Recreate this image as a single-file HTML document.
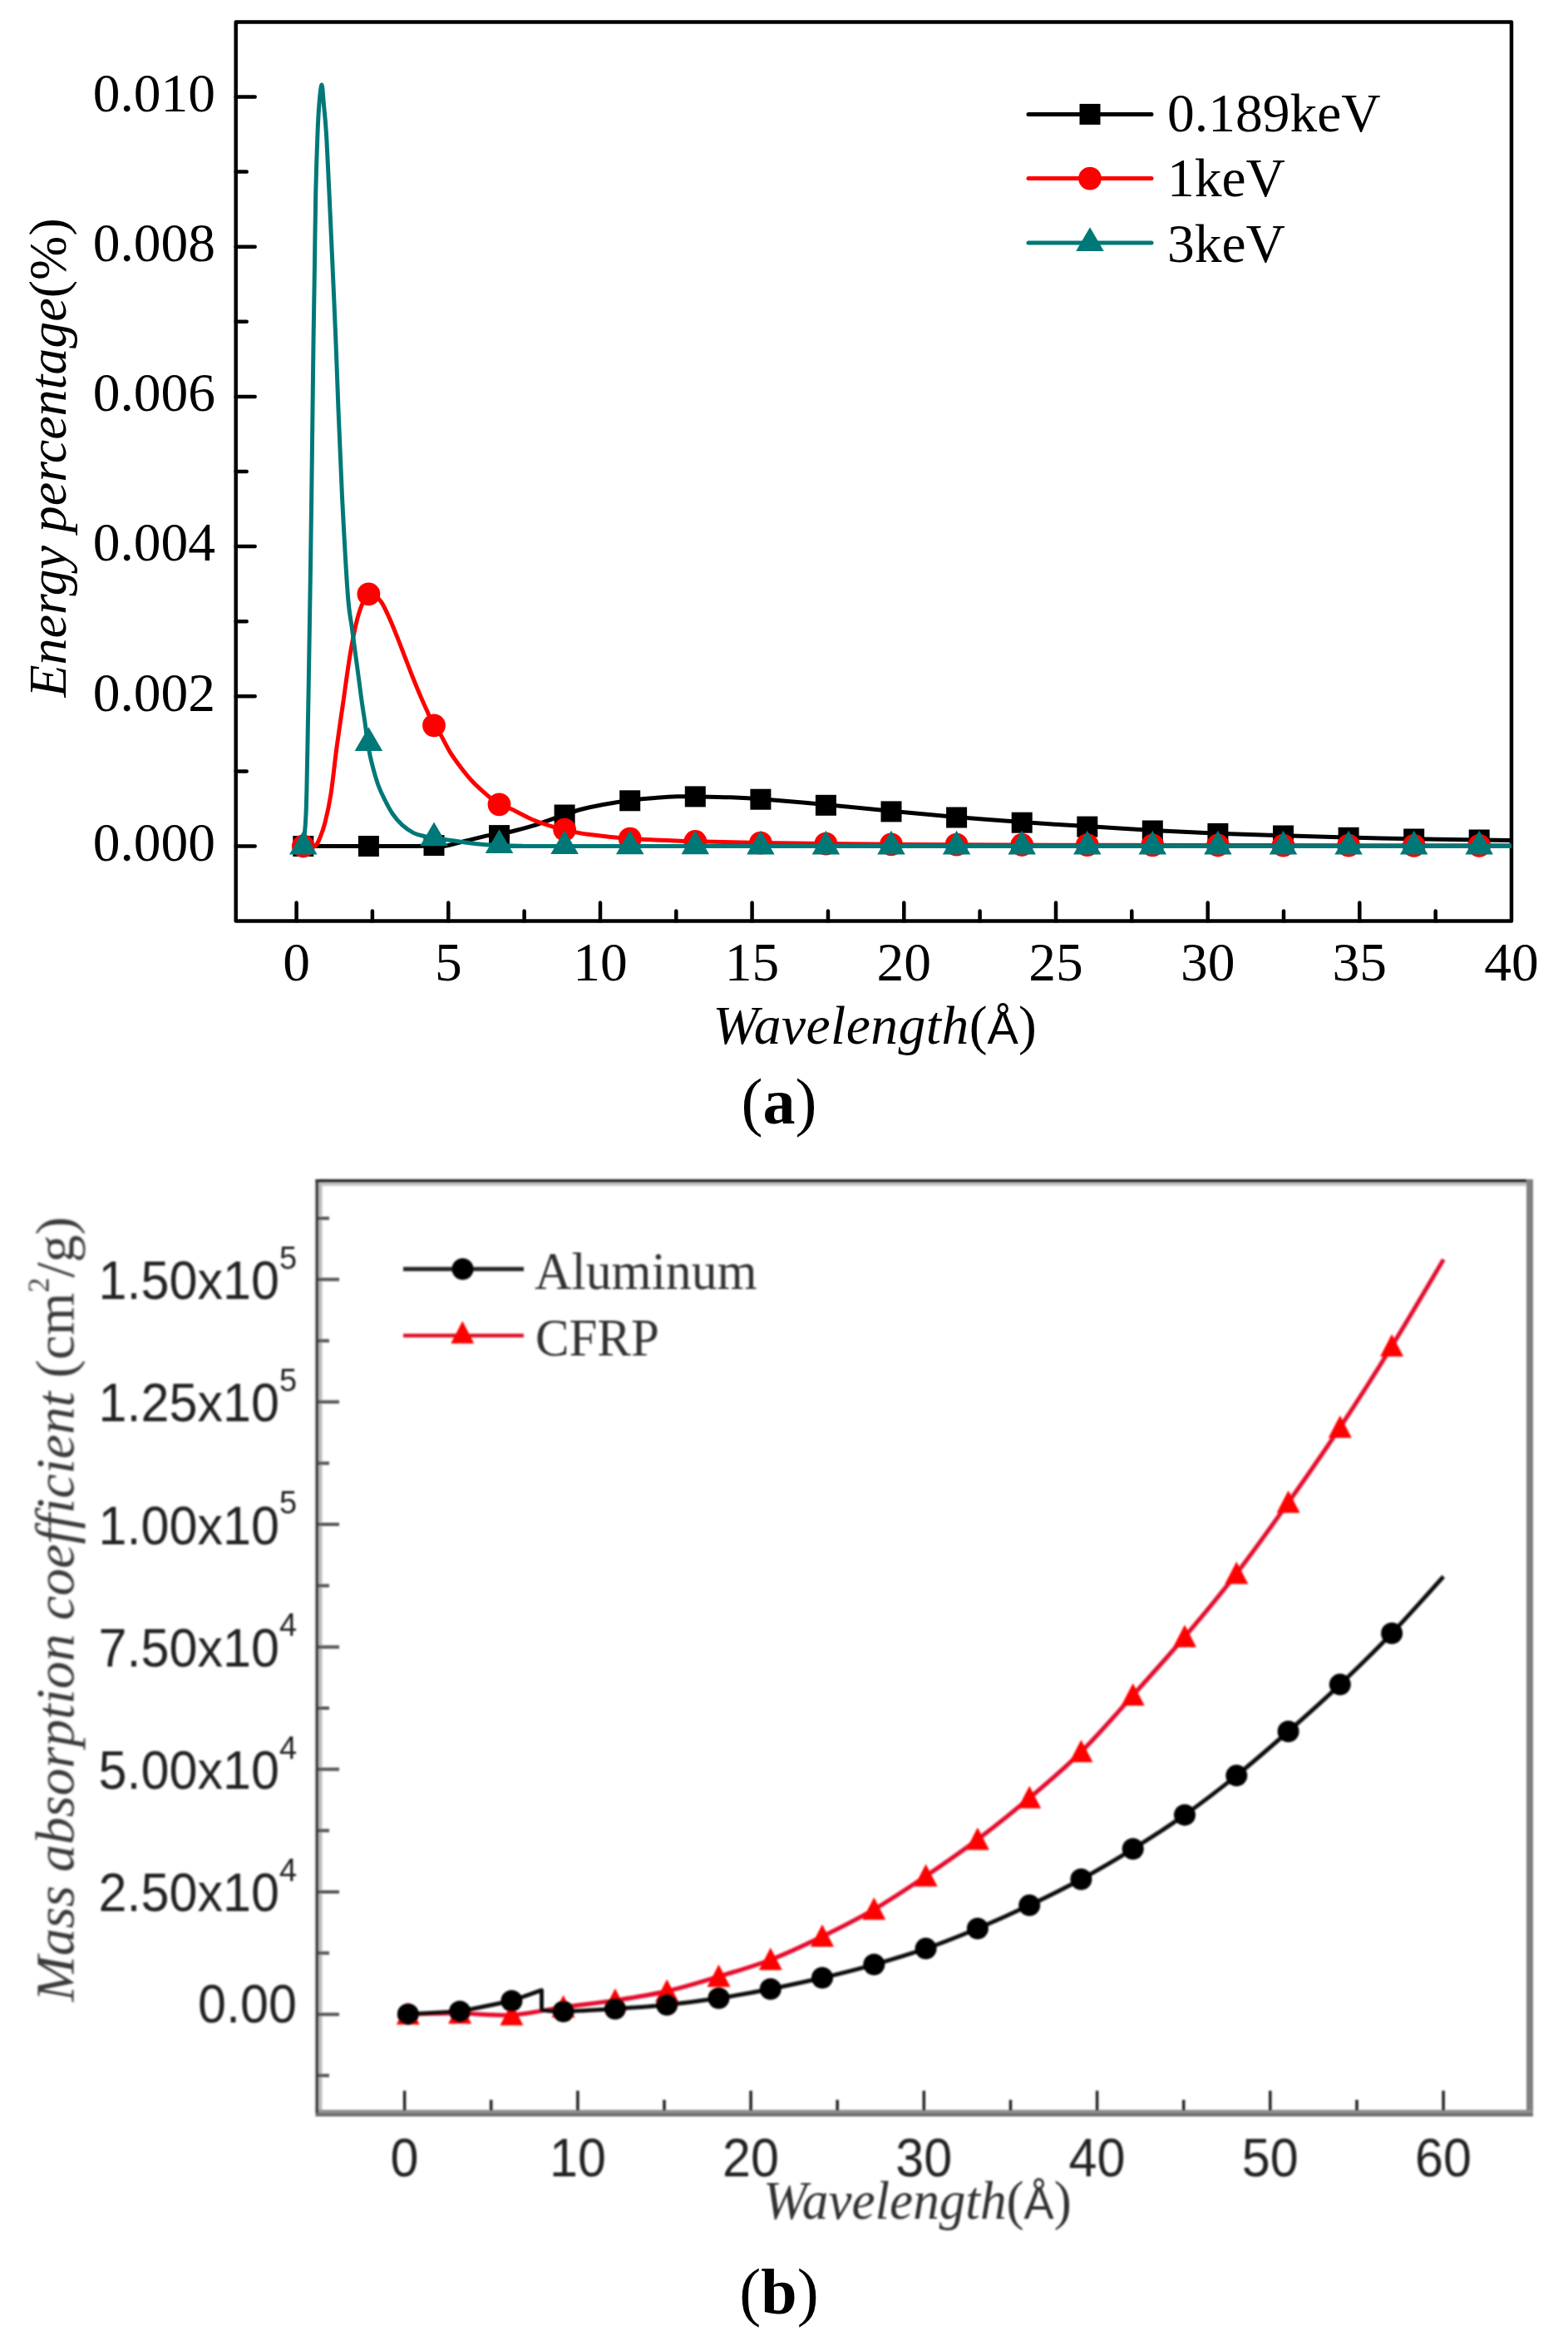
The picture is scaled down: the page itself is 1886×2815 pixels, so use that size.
<!DOCTYPE html>
<html><head><meta charset="utf-8"><title>Figure</title>
<style>
html,body{margin:0;padding:0;background:#fff;}
body{width:1886px;height:2815px;overflow:hidden;}
svg{display:block;}
.sa{font-family:"Liberation Serif",serif;font-size:65.5px;fill:#000;}
.yla{font-family:"Liberation Serif",serif;font-size:64px;fill:#000;}
.cap{font-family:"Liberation Serif",serif;font-size:78px;fill:#000;}
.sb{font-family:"Liberation Sans",sans-serif;font-size:64px;fill:#222;}
.sbs{font-family:"Liberation Sans",sans-serif;font-size:38px;fill:#222;}
.sl{font-family:"Liberation Serif",serif;font-size:64px;fill:#333;}
.yl{font-family:"Liberation Serif",serif;font-size:66px;fill:#3a3a3a;}
.xlb{font-family:"Liberation Serif",serif;font-size:65.5px;fill:#333;}
</style></head>
<body>
<svg width="1886" height="2815" viewBox="0 0 1886 2815">
<rect width="1886" height="2815" fill="#fff"/>
<g id="chartA">
<rect x="283.7" y="26.5" width="1534.3" height="1081.0" fill="none" stroke="#000" stroke-width="4.5" stroke-linejoin="round"/>
<path d="M283.7,1017.5h23 M283.7,927.4h13 M283.7,837.3h23 M283.7,747.2h13 M283.7,657.1h23 M283.7,567.0h13 M283.7,476.9h23 M283.7,386.8h13 M283.7,296.7h23 M283.7,206.6h13 M283.7,116.5h23 M356.6,1107.5v-22 M447.9,1107.5v-12 M539.3,1107.5v-22 M630.6,1107.5v-12 M722.0,1107.5v-22 M813.3,1107.5v-12 M904.6,1107.5v-22 M996.0,1107.5v-12 M1087.3,1107.5v-22 M1178.6,1107.5v-12 M1270.0,1107.5v-22 M1361.3,1107.5v-12 M1452.7,1107.5v-22 M1544.0,1107.5v-12 M1635.3,1107.5v-22 M1726.7,1107.5v-12" stroke="#000" stroke-width="4.5" stroke-linecap="round" fill="none"/>
<text x="259" y="1034.8" text-anchor="end" class="sa">0.000</text>
<text x="259" y="854.6" text-anchor="end" class="sa">0.002</text>
<text x="259" y="674.4" text-anchor="end" class="sa">0.004</text>
<text x="259" y="494.2" text-anchor="end" class="sa">0.006</text>
<text x="259" y="314.0" text-anchor="end" class="sa">0.008</text>
<text x="259" y="133.8" text-anchor="end" class="sa">0.010</text>
<text x="356.6" y="1179.3" text-anchor="middle" class="sa">0</text>
<text x="539.3" y="1179.3" text-anchor="middle" class="sa">5</text>
<text x="722.0" y="1179.3" text-anchor="middle" class="sa">10</text>
<text x="904.6" y="1179.3" text-anchor="middle" class="sa">15</text>
<text x="1087.3" y="1179.3" text-anchor="middle" class="sa">20</text>
<text x="1270.0" y="1179.3" text-anchor="middle" class="sa">25</text>
<text x="1452.7" y="1179.3" text-anchor="middle" class="sa">30</text>
<text x="1635.3" y="1179.3" text-anchor="middle" class="sa">35</text>
<text x="1818.0" y="1179.3" text-anchor="middle" class="sa">40</text>
<path d="M364.5,1017.5 C377.5,1017.5 420.0,1017.5 442.6,1017.5 C465.2,1017.5 486.9,1017.4 500.0,1017.4 C513.1,1017.4 515.8,1017.2 521.4,1017.2 C527.0,1017.2 527.2,1018.6 533.8,1017.6 C540.4,1016.6 552.3,1013.2 561.2,1011.0 C570.1,1008.8 580.9,1005.9 587.4,1004.6 C593.9,1003.3 596.0,1003.7 600.2,1003.0 C604.5,1002.3 606.2,1002.1 612.9,1000.5 C619.6,998.9 631.5,995.9 640.3,993.2 C649.1,990.5 659.4,986.4 665.8,984.3 C672.2,982.2 673.2,982.2 678.6,980.4 C684.0,978.6 690.1,975.6 697.9,973.5 C705.7,971.4 715.6,969.4 725.5,967.5 C735.4,965.6 746.4,963.8 757.1,962.4 C767.9,961.0 780.4,960.1 790.0,959.3 C799.6,958.5 807.1,958.0 814.8,957.8 C822.5,957.5 825.4,957.6 836.0,957.8 C846.6,958.0 865.5,958.3 878.6,958.8 C891.7,959.3 895.7,959.3 914.8,960.8 C933.9,962.3 967.0,965.2 993.1,967.6 C1019.2,970.0 1045.5,972.8 1071.7,975.3 C1097.9,977.8 1123.8,980.2 1150.1,982.4 C1176.4,984.6 1203.0,986.7 1229.3,988.6 C1255.6,990.5 1281.6,992.0 1307.8,993.6 C1334.0,995.2 1360.4,997.0 1386.6,998.4 C1412.8,999.8 1439.0,1001.1 1465.2,1002.2 C1491.4,1003.3 1517.6,1004.0 1543.8,1004.8 C1570.0,1005.6 1596.2,1006.3 1622.4,1007.0 C1648.6,1007.7 1674.9,1008.3 1701.1,1008.8 C1727.3,1009.3 1760.2,1009.7 1779.7,1010.0 C1799.2,1010.3 1811.6,1010.5 1818.0,1010.6" stroke="#000" stroke-width="5" fill="none" stroke-linejoin="round"/>
<g fill="#000"><rect x="352.3" y="1005.0" width="25" height="25"/><rect x="430.9" y="1005.0" width="25" height="25"/><rect x="509.5" y="1004.1" width="25" height="25"/><rect x="588.0" y="992.1" width="25" height="25"/><rect x="666.6" y="967.5" width="25" height="25"/><rect x="745.2" y="950.3" width="25" height="25"/><rect x="823.8" y="945.4" width="25" height="25"/><rect x="902.4" y="948.7" width="25" height="25"/><rect x="980.9" y="955.8" width="25" height="25"/><rect x="1059.5" y="963.4" width="25" height="25"/><rect x="1138.1" y="970.5" width="25" height="25"/><rect x="1216.7" y="976.7" width="25" height="25"/><rect x="1295.3" y="981.6" width="25" height="25"/><rect x="1373.8" y="986.5" width="25" height="25"/><rect x="1452.4" y="989.9" width="25" height="25"/><rect x="1531.0" y="992.5" width="25" height="25"/><rect x="1609.6" y="994.8" width="25" height="25"/><rect x="1688.2" y="996.5" width="25" height="25"/><rect x="1766.7" y="997.5" width="25" height="25"/></g>
<path d="M364.5,1017.5 C365.8,1017.8 369.4,1019.7 372.0,1019.5 C374.6,1019.3 377.7,1018.6 379.9,1016.5 C382.1,1014.4 383.1,1011.6 385.0,1007.0 C386.9,1002.4 388.9,997.6 391.1,988.7 C393.3,979.8 395.9,968.8 398.2,953.5 C400.5,938.2 402.8,914.8 405.2,897.2 C407.6,879.6 409.9,864.3 412.3,847.9 C414.7,831.5 417.0,813.4 419.3,798.6 C421.6,783.8 424.0,770.2 426.3,759.2 C428.6,748.2 430.7,739.9 433.4,732.4 C436.1,724.9 439.6,717.1 442.4,714.4 C445.2,711.7 447.3,714.4 450.0,716.0 C452.7,717.6 455.6,719.5 458.7,724.0 C461.8,728.5 465.1,736.1 468.3,743.1 C471.5,750.1 474.6,758.1 477.8,766.1 C481.0,774.1 484.2,782.7 487.4,791.0 C490.6,799.3 493.8,807.8 497.0,815.8 C500.2,823.8 503.6,832.1 506.5,838.8 C509.4,845.5 511.7,850.4 514.2,856.0 C516.7,861.6 518.8,867.8 521.3,872.3 C523.8,876.8 526.2,877.5 529.5,882.8 C532.8,888.1 536.9,897.2 541.0,903.9 C545.1,910.6 549.9,917.1 554.4,923.0 C558.9,928.9 563.0,934.1 567.8,939.2 C572.6,944.3 577.7,948.9 583.1,953.6 C588.5,958.3 594.7,964.3 600.0,967.5 C605.3,970.7 608.1,969.8 614.8,972.8 C621.5,975.8 631.8,981.9 640.3,985.5 C648.8,989.1 659.3,992.4 665.8,994.4 C672.3,996.4 672.2,996.1 679.1,997.6 C686.0,999.1 694.3,1001.5 707.4,1003.3 C720.5,1005.1 736.1,1007.0 757.6,1008.4 C779.1,1009.8 810.1,1010.9 836.3,1011.8 C862.5,1012.6 888.7,1013.0 914.8,1013.5 C940.9,1014.0 967.0,1014.3 993.1,1014.6 C1019.2,1014.9 1045.5,1015.1 1071.7,1015.3 C1097.9,1015.5 1112.0,1015.6 1150.0,1015.8 C1188.0,1016.0 1241.7,1016.2 1300.0,1016.3 C1358.3,1016.4 1413.7,1016.5 1500.0,1016.6 C1586.3,1016.7 1765.0,1016.8 1818.0,1016.8" stroke="#ff0000" stroke-width="5" fill="none" stroke-linejoin="round"/>
<g fill="#ff0000"><circle cx="364.8" cy="1017.5" r="13.9"/><circle cx="443.4" cy="714.4" r="13.9"/><circle cx="522.0" cy="872.3" r="13.9"/><circle cx="600.5" cy="967.3" r="13.9"/><circle cx="679.1" cy="997.6" r="13.9"/><circle cx="757.7" cy="1008.6" r="13.9"/><circle cx="836.3" cy="1012.0" r="13.9"/><circle cx="914.9" cy="1013.6" r="13.9"/><circle cx="993.4" cy="1014.6" r="13.9"/><circle cx="1072.0" cy="1015.3" r="13.9"/><circle cx="1150.6" cy="1015.7" r="13.9"/><circle cx="1229.2" cy="1016.0" r="13.9"/><circle cx="1307.8" cy="1016.2" r="13.9"/><circle cx="1386.3" cy="1016.4" r="13.9"/><circle cx="1464.9" cy="1016.5" r="13.9"/><circle cx="1543.5" cy="1016.6" r="13.9"/><circle cx="1622.1" cy="1016.7" r="13.9"/><circle cx="1700.7" cy="1016.8" r="13.9"/><circle cx="1779.2" cy="1016.8" r="13.9"/></g>
<path d="M364.5,1017.5 C364.9,1014.6 366.1,1005.8 366.6,1000.0 C367.2,994.2 367.4,991.4 367.8,983.0 C368.2,974.6 368.3,974.8 368.9,949.7 C369.4,924.6 370.4,871.4 371.1,832.3 C371.8,793.1 372.4,753.9 373.0,714.8 C373.6,675.6 374.2,634.4 374.7,597.4 C375.2,560.4 375.6,524.6 376.0,492.6 C376.4,460.6 376.7,434.3 377.1,405.1 C377.5,375.9 378.1,346.8 378.5,317.6 C378.9,288.4 379.2,256.3 379.8,230.0 C380.4,203.7 381.3,177.7 382.0,160.0 C382.7,142.3 383.2,133.7 384.0,124.0 C384.8,114.3 386.1,101.8 387.0,102.0 C387.9,102.2 388.5,115.3 389.4,125.0 C390.3,134.7 391.3,142.5 392.4,160.0 C393.5,177.5 394.6,203.7 395.9,230.0 C397.1,256.3 398.6,288.4 399.9,317.6 C401.2,346.8 402.5,375.9 403.7,405.1 C404.9,434.3 405.7,460.6 407.0,492.6 C408.3,524.6 409.6,560.4 411.5,597.4 C413.4,634.4 416.3,688.3 418.3,714.8 C420.3,741.3 421.7,742.3 423.5,756.3 C425.3,770.3 427.3,784.5 429.2,798.6 C431.1,812.7 433.2,829.1 434.8,840.8 C436.4,852.5 437.8,860.7 439.0,869.0 C440.2,877.3 440.8,883.7 441.8,890.5 C442.9,897.3 444.1,903.9 445.3,909.6 C446.5,915.3 447.5,919.2 449.1,924.9 C450.7,930.6 452.7,938.0 454.9,944.0 C457.1,950.0 459.6,955.5 462.5,961.2 C465.4,967.0 468.6,973.4 472.1,978.5 C475.6,983.6 479.5,988.1 483.6,991.9 C487.8,995.7 492.6,999.1 497.0,1001.4 C501.4,1003.7 505.9,1004.5 510.0,1005.5 C514.1,1006.5 517.4,1006.8 521.5,1007.5 C525.6,1008.2 527.4,1008.5 534.4,1009.5 C541.4,1010.5 554.6,1012.5 563.8,1013.6 C572.9,1014.7 578.7,1015.5 589.3,1016.1 C599.9,1016.7 609.1,1017.0 627.6,1017.2 C646.1,1017.4 501.6,1017.5 700.0,1017.5 C898.4,1017.5 1631.7,1017.5 1818.0,1017.5" stroke="#007878" stroke-width="5" fill="none" stroke-linejoin="round"/>
<g fill="#007878"><polygon points="364.8,998.8 381.6,1027.5 348.0,1027.5"/><polygon points="443.4,874.3 460.2,903.0 426.6,903.0"/><polygon points="522.0,988.6 538.8,1017.3 505.2,1017.3"/><polygon points="600.5,997.3 617.3,1026.0 583.7,1026.0"/><polygon points="679.1,998.3 695.9,1027.0 662.3,1027.0"/><polygon points="757.7,998.5 774.5,1027.2 740.9,1027.2"/><polygon points="836.3,998.6 853.1,1027.3 819.5,1027.3"/><polygon points="914.9,998.7 931.7,1027.4 898.1,1027.4"/><polygon points="993.4,998.8 1010.2,1027.5 976.6,1027.5"/><polygon points="1072.0,998.8 1088.8,1027.5 1055.2,1027.5"/><polygon points="1150.6,998.8 1167.4,1027.5 1133.8,1027.5"/><polygon points="1229.2,998.8 1246.0,1027.5 1212.4,1027.5"/><polygon points="1307.8,998.8 1324.6,1027.5 1291.0,1027.5"/><polygon points="1386.3,998.8 1403.1,1027.5 1369.5,1027.5"/><polygon points="1464.9,998.8 1481.7,1027.5 1448.1,1027.5"/><polygon points="1543.5,998.8 1560.3,1027.5 1526.7,1027.5"/><polygon points="1622.1,998.8 1638.9,1027.5 1605.3,1027.5"/><polygon points="1700.7,998.8 1717.5,1027.5 1683.9,1027.5"/><polygon points="1779.2,998.8 1796.0,1027.5 1762.4,1027.5"/></g>
<path d="M1237,137.4H1385" stroke="#000" stroke-width="5" stroke-linecap="round"/>
<g fill="#000"><rect x="1298.5" y="124.9" width="25" height="25"/></g>
<path d="M1237,214.6H1385" stroke="#ff0000" stroke-width="5" stroke-linecap="round"/>
<g fill="#ff0000"><circle cx="1311.0" cy="214.6" r="13.9"/></g>
<path d="M1237,292.0H1385" stroke="#007878" stroke-width="5" stroke-linecap="round"/>
<g fill="#007878"><polygon points="1311.0,273.3 1327.8,302.0 1294.2,302.0"/></g>
<text x="1404" y="158" class="sa">0.189keV</text>
<text x="1404" y="236" class="sa">1keV</text>
<text x="1404" y="315" class="sa">3keV</text>
<text transform="translate(78.6,838.6) rotate(-90)" class="yla"><tspan font-style="italic">Energy percentage</tspan>(%)</text>
<text x="857.6" y="1255.3" class="sa"><tspan font-style="italic" letter-spacing="0.5">Wavelength</tspan>(<tspan font-family="Liberation Sans" font-size="56px">Å</tspan>)</text>
<text x="937" y="1351" text-anchor="middle" class="cap">(<tspan font-weight="bold">a</tspan>)</text>
</g>
<defs><filter id="bl" x="-0.02" y="-0.02" width="1.04" height="1.04"><feGaussianBlur stdDeviation="0.9"/></filter></defs>
<g id="chartB" filter="url(#bl)">
<rect x="379.5" y="1418" width="1461" height="4" fill="#2b2b2b"/>
<rect x="383.5" y="1422" width="1453" height="4" fill="#c4c4c4"/>
<rect x="379.5" y="1418" width="4" height="1123" fill="#3a3a3a"/>
<rect x="383.5" y="1422" width="4" height="1115" fill="#bdbdbd"/>
<rect x="1836" y="1418" width="8" height="1127" fill="#808080"/>
<rect x="383.5" y="2537" width="1460" height="4" fill="#909090"/>
<rect x="379.5" y="2541" width="1464.5" height="4" fill="#6e6e6e"/>
<path d="M383,2495.8h13 M383,2422.2h25 M383,2348.6h13 M383,2274.9h25 M383,2201.3h13 M383,2127.6h25 M383,2054.0h13 M383,1980.4h25 M383,1906.7h13 M383,1833.1h25 M383,1759.4h13 M383,1685.8h25 M383,1612.2h13 M383,1538.5h25 M383,1464.9h13" stroke="#555" stroke-width="4" fill="none"/>
<path d="M486.6,2538v-24 M590.7,2538v-13 M694.9,2538v-24 M799.0,2538v-13 M903.1,2538v-24 M1007.2,2538v-13 M1111.3,2538v-24 M1215.5,2538v-13 M1319.6,2538v-24 M1423.7,2538v-13 M1527.8,2538v-24 M1632.0,2538v-13 M1736.1,2538v-24" stroke="#222" stroke-width="3.5" fill="none"/>
<text transform="translate(357,2432.2) scale(0.955,1)" text-anchor="end" class="sb">0.00</text>
<text transform="translate(336,2298.4) scale(0.955,1)" text-anchor="end" class="sb">2.50x10</text>
<text x="336" y="2261.9" class="sbs">4</text>
<text transform="translate(336,2151.1) scale(0.955,1)" text-anchor="end" class="sb">5.00x10</text>
<text x="336" y="2114.6" class="sbs">4</text>
<text transform="translate(336,2003.9) scale(0.955,1)" text-anchor="end" class="sb">7.50x10</text>
<text x="336" y="1967.4" class="sbs">4</text>
<text transform="translate(336,1856.6) scale(0.955,1)" text-anchor="end" class="sb">1.00x10</text>
<text x="336" y="1820.1" class="sbs">5</text>
<text transform="translate(336,1709.3) scale(0.955,1)" text-anchor="end" class="sb">1.25x10</text>
<text x="336" y="1672.8" class="sbs">5</text>
<text transform="translate(336,1562.0) scale(0.955,1)" text-anchor="end" class="sb">1.50x10</text>
<text x="336" y="1525.5" class="sbs">5</text>
<text transform="translate(486.6,2617) scale(0.955,1)" text-anchor="middle" class="sb">0</text>
<text transform="translate(694.9,2617) scale(0.955,1)" text-anchor="middle" class="sb">10</text>
<text transform="translate(903.1,2617) scale(0.955,1)" text-anchor="middle" class="sb">20</text>
<text transform="translate(1111.3,2617) scale(0.955,1)" text-anchor="middle" class="sb">30</text>
<text transform="translate(1319.6,2617) scale(0.955,1)" text-anchor="middle" class="sb">40</text>
<text transform="translate(1527.8,2617) scale(0.955,1)" text-anchor="middle" class="sb">50</text>
<text transform="translate(1736.1,2617) scale(0.955,1)" text-anchor="middle" class="sb">60</text>
<path d="M490.8,2422.0 C501.2,2421.8 532.3,2420.8 553.1,2421.0 C573.8,2421.2 594.6,2424.2 615.4,2423.0 C636.1,2421.8 656.9,2416.4 677.6,2413.5 C698.4,2410.6 719.2,2408.7 739.9,2405.5 C760.7,2402.3 781.4,2399.2 802.2,2394.4 C823.0,2389.6 843.7,2383.1 864.5,2376.8 C885.2,2370.5 906.0,2364.6 926.8,2356.6 C947.5,2348.6 968.3,2338.7 989.0,2328.6 C1009.8,2318.5 1030.6,2308.1 1051.3,2296.0 C1072.1,2283.9 1092.8,2269.9 1113.6,2255.9 C1134.4,2241.9 1155.1,2227.5 1175.9,2211.9 C1196.6,2196.3 1217.4,2179.7 1238.2,2162.1 C1258.9,2144.5 1279.7,2127.2 1300.4,2106.6 C1321.2,2086.0 1342.0,2061.7 1362.7,2038.6 C1383.5,2015.5 1404.2,1992.6 1425.0,1968.2 C1445.8,1943.8 1466.5,1919.1 1487.3,1892.2 C1508.0,1865.3 1528.8,1836.1 1549.6,1806.8 C1570.3,1777.5 1591.1,1747.8 1611.8,1716.5 C1632.6,1685.2 1653.4,1652.5 1674.1,1618.8 C1694.9,1585.1 1725.9,1531.9 1736.3,1514.5" stroke="#e3112e" stroke-width="5.2" fill="none" stroke-linejoin="round"/>
<g fill="#ff0000"><polygon points="490.8,2407.5 504.8,2434.5 476.8,2434.5"/><polygon points="553.1,2406.5 567.1,2433.5 539.1,2433.5"/><polygon points="615.4,2408.5 629.4,2435.5 601.4,2435.5"/><polygon points="677.6,2399.0 691.6,2426.0 663.6,2426.0"/><polygon points="739.9,2391.0 753.9,2418.0 725.9,2418.0"/><polygon points="802.2,2379.9 816.2,2406.9 788.2,2406.9"/><polygon points="864.5,2362.3 878.5,2389.3 850.5,2389.3"/><polygon points="926.8,2342.1 940.8,2369.1 912.8,2369.1"/><polygon points="989.0,2314.1 1003.0,2341.1 975.0,2341.1"/><polygon points="1051.3,2281.5 1065.3,2308.5 1037.3,2308.5"/><polygon points="1113.6,2241.4 1127.6,2268.4 1099.6,2268.4"/><polygon points="1175.9,2197.4 1189.9,2224.4 1161.9,2224.4"/><polygon points="1238.2,2147.6 1252.2,2174.6 1224.2,2174.6"/><polygon points="1300.4,2092.1 1314.4,2119.1 1286.4,2119.1"/><polygon points="1362.7,2024.1 1376.7,2051.1 1348.7,2051.1"/><polygon points="1425.0,1953.7 1439.0,1980.7 1411.0,1980.7"/><polygon points="1487.3,1877.7 1501.3,1904.7 1473.3,1904.7"/><polygon points="1549.6,1792.3 1563.6,1819.3 1535.6,1819.3"/><polygon points="1611.8,1702.0 1625.8,1729.0 1597.8,1729.0"/><polygon points="1674.1,1604.3 1688.1,1631.3 1660.1,1631.3"/></g>
<path d="M490.8,2421.9 L553.1,2418.7 L615.4,2406.0 L651.5,2393.2 L651.5,2417  C655.9,2417.3 662.9,2418.9 677.6,2418.7 C692.4,2418.4 719.2,2416.8 739.9,2415.5 C760.7,2414.2 781.4,2412.8 802.2,2410.7 C823.0,2408.6 843.7,2406.0 864.5,2402.8 C885.2,2399.6 906.0,2395.8 926.8,2391.7 C947.5,2387.6 968.3,2383.2 989.0,2378.3 C1009.8,2373.4 1030.6,2368.2 1051.3,2362.3 C1072.1,2356.4 1092.8,2350.3 1113.6,2343.1 C1134.4,2335.9 1155.1,2327.7 1175.9,2319.0 C1196.6,2310.3 1217.4,2301.0 1238.2,2291.1 C1258.9,2281.2 1279.7,2271.0 1300.4,2259.7 C1321.2,2248.4 1342.0,2236.2 1362.7,2223.3 C1383.5,2210.4 1404.2,2197.1 1425.0,2182.4 C1445.8,2167.7 1466.5,2151.8 1487.3,2135.1 C1508.0,2118.4 1528.8,2100.2 1549.6,2082.0 C1570.3,2063.8 1591.1,2045.3 1611.8,2025.6 C1632.6,2005.9 1653.4,1985.7 1674.1,1964.0 C1694.8,1942.3 1725.9,1907.1 1736.2,1895.7" stroke="#111" stroke-width="5" fill="none" stroke-linejoin="round"/>
<g fill="#000"><circle cx="490.8" cy="2421.9" r="13"/><circle cx="553.1" cy="2418.7" r="13"/><circle cx="615.4" cy="2406.0" r="13"/><circle cx="677.6" cy="2418.7" r="13"/><circle cx="739.9" cy="2415.5" r="13"/><circle cx="802.2" cy="2410.7" r="13"/><circle cx="864.5" cy="2402.8" r="13"/><circle cx="926.8" cy="2391.7" r="13"/><circle cx="989.0" cy="2378.3" r="13"/><circle cx="1051.3" cy="2362.3" r="13"/><circle cx="1113.6" cy="2343.1" r="13"/><circle cx="1175.9" cy="2319.0" r="13"/><circle cx="1238.2" cy="2291.1" r="13"/><circle cx="1300.4" cy="2259.7" r="13"/><circle cx="1362.7" cy="2223.3" r="13"/><circle cx="1425.0" cy="2182.4" r="13"/><circle cx="1487.3" cy="2135.1" r="13"/><circle cx="1549.6" cy="2082.0" r="13"/><circle cx="1611.8" cy="2025.6" r="13"/><circle cx="1674.1" cy="1964.0" r="13"/></g>
<path d="M485,1526H630" stroke="#222" stroke-width="5"/>
<circle cx="556.5" cy="1526" r="13" fill="#000"/>
<path d="M485,1606H630" stroke="#e01020" stroke-width="4.5"/>
<g fill="#ff0000"><polygon points="556.3,1588.5 570.3,1615.5 542.3,1615.5"/></g>
<text transform="translate(643,1549.5) scale(0.965,1)" class="sl">Aluminum</text>
<text transform="translate(644,1629.5) scale(0.95,1)" class="sl">CFRP</text>
<text transform="translate(88.5,2406.8) rotate(-90)" class="yl"><tspan font-style="italic">Mass absorption coefficient</tspan> (cm<tspan dy="-30" font-size="36px">2</tspan><tspan dy="30">/g)</tspan></text>
<text transform="translate(918,2667.5) scale(0.965,1)" class="xlb"><tspan font-style="italic">Wavelength</tspan>(<tspan font-family="Liberation Sans" font-size="56px">Å</tspan>)</text>
</g>
<text x="937" y="2782" text-anchor="middle" class="cap">(<tspan font-weight="bold">b</tspan>)</text>
</svg>
</body></html>
